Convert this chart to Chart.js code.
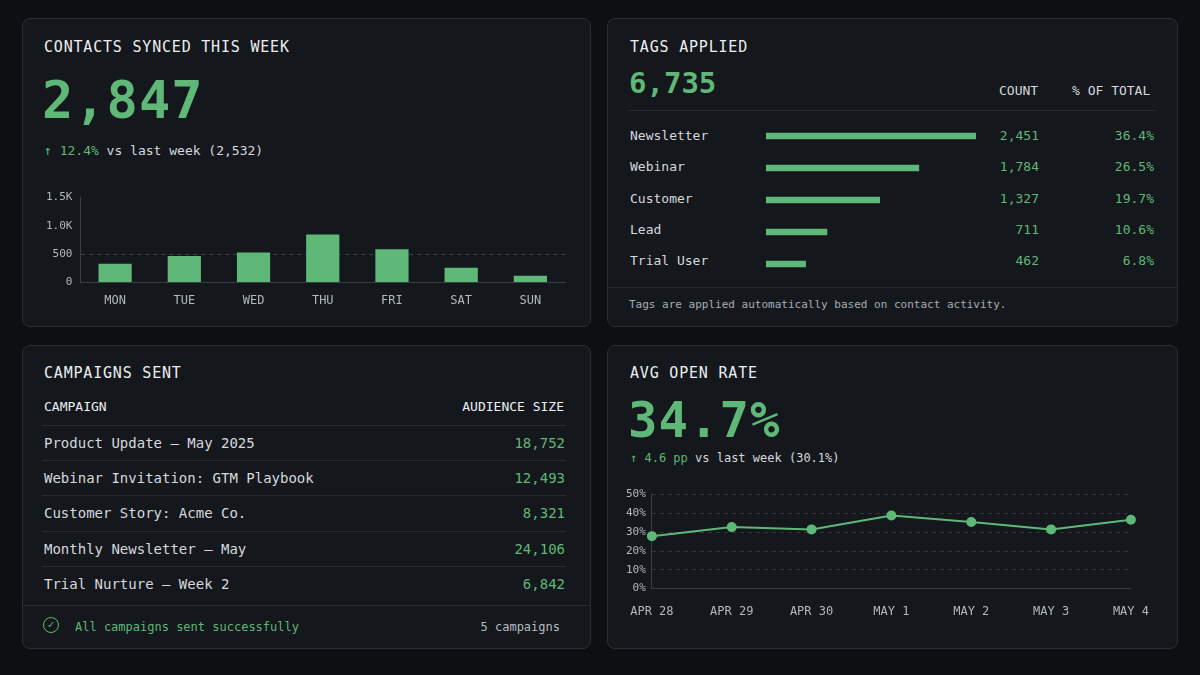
<!DOCTYPE html>
<html>
<head>
<meta charset="utf-8">
<script src="https://cdn.jsdelivr.net/npm/chart.js@4"></script>
<style>
  body { margin: 0; width: 1200px; height: 675px; background: #0d0f12; font-family: "DejaVu Sans Mono", monospace; color: #d6d9de; overflow: hidden; position: relative; }
  .card { position: absolute; background: #14171c; border: 1px solid #2a2e35; border-radius: 8px; box-sizing: border-box; }
  .abs { position: absolute; white-space: nowrap; }
  .title { font-size: 15px; letter-spacing: 0.8px; color: #eceef1; }
  .green { color: #5fb878; }
  .big { font-size: 52px; color: #5fb878; font-weight: bold; letter-spacing: 1px; }
  .sm { font-size: 13px; }
  .xs { font-size: 11px; color: #a8adb5; }
  .hr { position: absolute; height: 1px; background: #262a31; }
  canvas { position: absolute; }
</style>
</head>
<body>
<div class="card" style="left:22px;top:18px;width:569px;height:309px"></div>
<div class="card" style="left:607px;top:18px;width:571px;height:309px"></div>
<div class="card" style="left:22px;top:345px;width:569px;height:304px"></div>
<div class="card" style="left:607px;top:345px;width:571px;height:304px"></div>

<!-- card 1 -->
<div class="abs title" style="left:44px;top:38px">CONTACTS SYNCED THIS WEEK</div>
<div class="abs big" style="left:42px;top:70px">2,847</div>
<div class="abs sm" style="left:44px;top:143px"><span class="green">&#8593; 12.4%</span> vs last week (2,532)</div>
<canvas id="bars" style="left:38px;top:183px;width:535px;height:128px" width="535" height="128"></canvas>

<!-- card 2 -->
<div class="abs title" style="left:630px;top:38px">TAGS APPLIED</div>
<div class="abs green" style="left:629px;top:66px;font-size:29px;font-weight:bold">6,735</div>
<div class="abs sm" style="left:999px;top:83px">COUNT</div>
<div class="abs sm" style="left:1072px;top:83px">% OF TOTAL</div>
<div class="hr" style="left:628px;top:110px;width:528px"></div>
<div id="tagRows"></div>
<canvas id="tags" style="left:760px;top:120px;width:222px;height:160px" width="222" height="160"></canvas>
<div class="hr" style="left:608px;top:287px;width:569px"></div>
<div class="abs xs" style="left:629px;top:298px">Tags are applied automatically based on contact activity.</div>

<!-- card 3 -->
<div class="abs title" style="left:44px;top:364px">CAMPAIGNS SENT</div>
<div class="abs sm" style="left:44px;top:399px;color:#eceef1">CAMPAIGN</div>
<div class="abs sm" style="right:636px;top:399px;color:#eceef1">AUDIENCE SIZE</div>
<div id="campRows"></div>
<div class="hr" style="left:23px;top:605px;width:567px"></div>
<div class="abs" style="left:43px;top:617px;width:16px;height:16px;border:1.5px solid #5fb878;border-radius:50%;box-sizing:border-box;color:#5fb878;font-size:11px;line-height:13px;text-align:center">&#10003;</div>
<div class="abs green" style="left:75px;top:620px;font-size:12px">All campaigns sent successfully</div>
<div class="abs" style="right:640px;top:620px;font-size:12px;color:#b8bcc3">5 campaigns</div>

<!-- card 4 -->
<div class="abs title" style="left:630px;top:364px">AVG OPEN RATE</div>
<div class="abs big" style="left:628px;top:392px;font-size:49px">34.7%</div>
<div class="abs" style="left:630px;top:451px;font-size:12px"><span class="green">&#8593; 4.6 pp</span> vs last week (30.1%)</div>
<canvas id="line" style="left:620px;top:482px;width:537px;height:145px" width="537" height="145"></canvas>

<script>
const dayLabels = ['MON', 'TUE', 'WED', 'THU', 'FRI', 'SAT', 'SUN'];
const contactsSynced = [333, 470, 530, 850, 590, 260, 120];

const tagNames = ['Newsletter', 'Webinar', 'Customer', 'Lead', 'Trial User'];
const tagCounts = [2451, 1784, 1327, 711, 462];
const tagShares = ['36.4%', '26.5%', '19.7%', '10.6%', '6.8%'];

const campaignNames = ['Product Update \u2013 May 2025', 'Webinar Invitation: GTM Playbook', 'Customer Story: Acme Co.', 'Monthly Newsletter \u2013 May', 'Trial Nurture \u2013 Week 2'];
const audienceSizes = [18752, 12493, 8321, 24106, 6842];

const openDays = ['APR 28', 'APR 29', 'APR 30', 'MAY 1', 'MAY 2', 'MAY 3', 'MAY 4'];
const openRates = [27.9, 32.7, 31.5, 38.9, 35.4, 31.5, 36.6];

const GREEN = '#5fb878';
const TICK = '#b3b8bf';
const AXIS = '#3a3f47';
const fmt = n => n.toLocaleString('en-US');

// text rows
let html = '';
tagNames.forEach((t, i) => {
  const y = 128 + i * 31.3;
  html += `<div class="abs sm" style="left:630px;top:${y}px">${t}</div>`;
  html += `<div class="abs sm green" style="right:161px;top:${y}px">${fmt(tagCounts[i])}</div>`;
  html += `<div class="abs sm green" style="right:46px;top:${y}px">${tagShares[i]}</div>`;
});
document.getElementById('tagRows').innerHTML = html;

html = '';
campaignNames.forEach((c, i) => {
  const y = 435 + i * 35.2;
  html += `<div class="hr" style="left:42px;top:${y - 10}px;width:524px"></div>`;
  html += `<div class="abs" style="left:44px;top:${y}px;font-size:14px">${c}</div>`;
  html += `<div class="abs green" style="right:635px;top:${y}px;font-size:14px">${fmt(audienceSizes[i])}</div>`;
});
document.getElementById('campRows').innerHTML = html;

Chart.defaults.font.family = '"DejaVu Sans Mono", monospace';
Chart.defaults.animation = false;

new Chart(document.getElementById('bars'), {
  type: 'bar',
  data: { labels: dayLabels, datasets: [{ data: contactsSynced, backgroundColor: GREEN, barPercentage: 0.48, categoryPercentage: 1 }] },
  options: {
    responsive: false,
    plugins: { legend: { display: false }, tooltip: { enabled: false } },
    layout: { padding: { right: 8, top: 4 } },
    scales: {
      x: {
        grid: { display: false },
        border: { color: AXIS },
        ticks: { color: TICK, font: { size: 12 } }
      },
      y: {
        min: 0, max: 1500,
        border: { color: AXIS },
        grid: { color: c => c.tick && c.tick.value === 500 ? '#3a3f47' : 'transparent', drawTicks: false },
        border: { color: AXIS, dash: [4, 4] },
        ticks: { stepSize: 500, color: TICK, font: { size: 11 }, padding: 8,
          callback: v => v >= 1000 ? (v / 1000).toFixed(1) + 'K' : v }
      }
    }
  }
});

new Chart(document.getElementById('tags'), {
  type: 'bar',
  data: { labels: tagNames, datasets: [{ data: tagCounts, backgroundColor: GREEN, barThickness: 6 }] },
  options: {
    indexAxis: 'y',
    responsive: false,
    plugins: { legend: { display: false }, tooltip: { enabled: false } },
    layout: { padding: { left: 6, right: 6 } },
    scales: {
      x: { display: false, min: 0, max: 2451 },
      y: { display: false }
    }
  }
});

new Chart(document.getElementById('line'), {
  type: 'line',
  data: { labels: openDays, datasets: [{ data: openRates, borderColor: GREEN, backgroundColor: GREEN, borderWidth: 2, pointRadius: 4, tension: 0 }] },
  options: {
    responsive: false,
    plugins: { legend: { display: false }, tooltip: { enabled: false } },
    layout: { padding: { right: 6, top: 4 } },
    scales: {
      x: {
        grid: { display: false },
        border: { color: AXIS },
        ticks: { color: TICK, font: { size: 12 }, padding: 8 }
      },
      y: {
        min: 0, max: 50,
        grid: { color: c => c.tick && c.tick.value === 0 ? 'transparent' : '#30343b', drawTicks: false },
        border: { color: AXIS, dash: [4, 4] },
        ticks: { stepSize: 10, color: TICK, font: { size: 11 }, padding: 6, callback: v => v + '%' }
      }
    }
  }
});
</script>
</body>
</html>
